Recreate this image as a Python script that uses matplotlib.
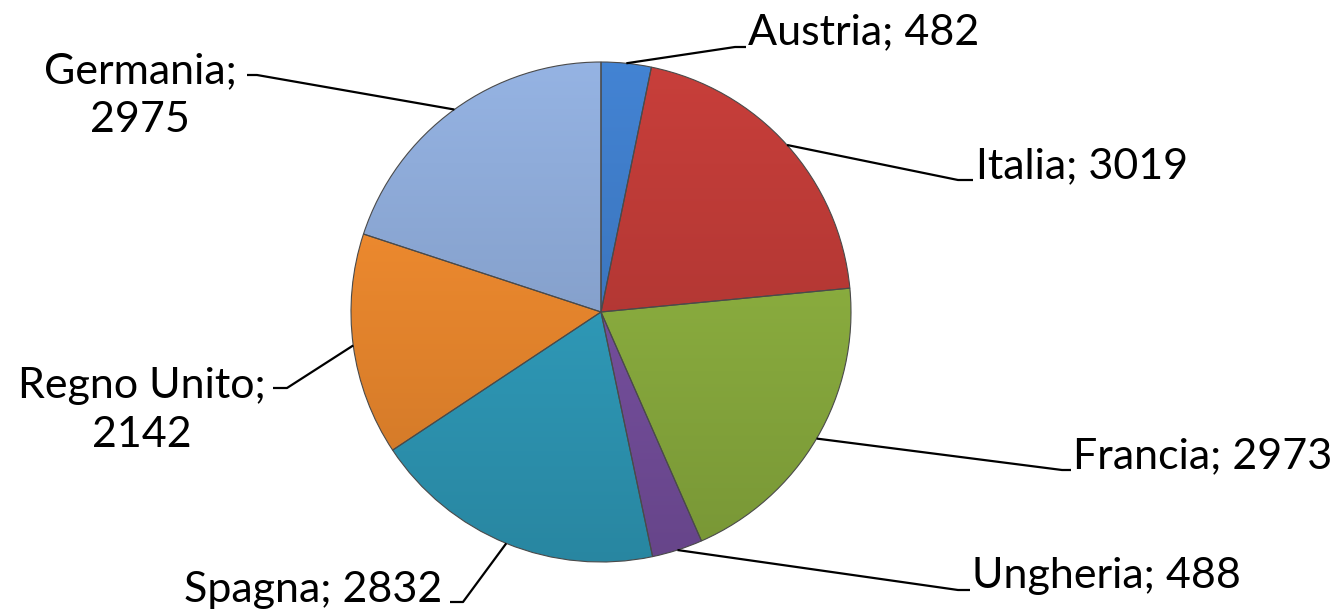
import numpy as np
import matplotlib
matplotlib.use("Agg")
import matplotlib.pyplot as plt
from matplotlib.colors import to_rgb

# data
countries = ["Austria", "Italia", "Francia", "Ungheria", "Spagna", "Regno Unito", "Germania"]
values = [482, 3019, 2973, 488, 2832, 2142, 2975]
colors = ["#3E7CC9", "#BE3A36", "#8FB340", "#7A52A4", "#30A0C0", "#F18B2E", "#8DAAD8"]

# label layout, in pixels from the top-left corner: text anchor (last baseline), elbow, line end
label_text = ["Austria; 482", "Italia; 3019", "Francia; 2973", "Ungheria; 488",
              "Spagna; 2832", "Regno Unito;\n2142", "Germania;\n2975"]
label_xy = [(748, 44), (976, 178), (1073, 468), (972, 588), (442, 602), (142, 447), (140, 132)]
elbow_xy = [(735, 47), (958, 180), (1062, 470), (958, 590), (463, 602), (287, 388), (257, 75)]
end_xy = [(746, 47), (973, 180), (1071, 470), (970, 590), (450, 602), (273, 388), (247, 75)]
label_ha = ["left", "left", "left", "left", "right", "center", "center"]

W, H = 1337, 612
cx, cy, R = 601, 312, 250

fig = plt.figure(figsize=(W / 100, H / 100), dpi=100)
ax = fig.add_axes([0, 0, 1, 1])

wedges, _ = ax.pie(values, colors=colors, startangle=90, counterclock=False,
                   center=(cx, H - cy), radius=R,
                   wedgeprops=dict(edgecolor="#4a4a4a", linewidth=0.8))

# soft vertical gradient inside every wedge (lighter top, darker bottom)
grad = np.linspace(1.0, 0.0, 256)[:, None]
for w, c in zip(wedges, colors):
    rgb = np.array(to_rgb(c))
    light = np.clip(rgb * 1.04 + 0.01, 0, 1)
    dark = rgb * 0.84
    img = light[None, None, :] * grad[:, :, None] + dark[None, None, :] * (1 - grad[:, :, None])
    img = np.repeat(img, 2, axis=1)
    im = ax.imshow(img, extent=(cx - R, cx + R, H - cy - R, H - cy + R),
                   origin="upper", zorder=1.5, interpolation="bilinear")
    im.set_clip_path(w)
    w.set_facecolor("none")
    w.set_zorder(2)

for w, txt, lxy, exy, nxy, ha in zip(wedges, label_text, label_xy, elbow_xy, end_xy, label_ha):
    mid = np.deg2rad((w.theta1 + w.theta2) / 2)
    sx = cx + R * np.cos(mid)
    sy = (H - cy) + R * np.sin(mid)
    ax.plot([sx, exy[0], nxy[0]], [sy, H - exy[1], H - nxy[1]],
            color="black", lw=1.6, zorder=3, solid_capstyle="butt")
    ax.text(lxy[0], H - lxy[1], txt, ha=ha, va="baseline", fontsize=31,
            family="Lato", color="black", linespacing=1.35, multialignment="center")

ax.set_xlim(0, W)
ax.set_ylim(0, H)
ax.set_aspect("equal")
ax.axis("off")

fig.savefig("out.png", dpi=100)
